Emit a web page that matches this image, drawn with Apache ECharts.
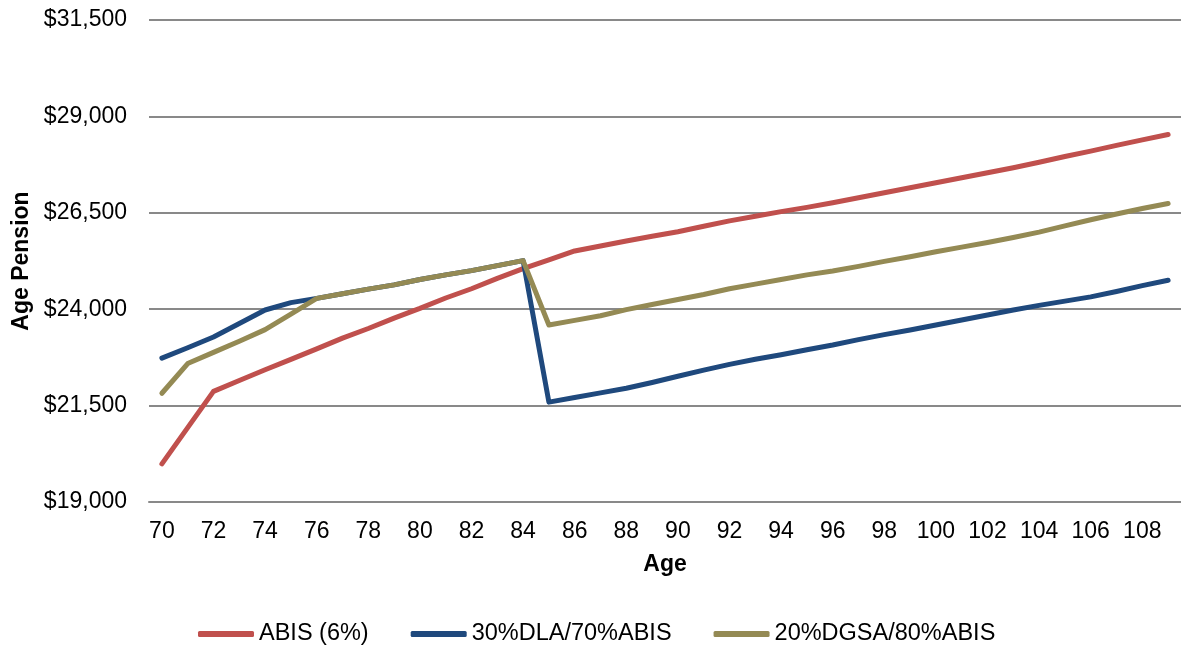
<!DOCTYPE html>
<html>
<head>
<meta charset="utf-8">
<title>Age Pension by Age</title>
<script src="https://cdn.jsdelivr.net/npm/echarts@6/dist/echarts.min.js"></script>
<style>
  html, body { margin: 0; padding: 0; background: #ffffff; }
  #chart { width: 1181px; height: 652px; }
</style>
</head>
<body>
<div id="chart"></div>
<script>
// Ages 70 to 109
const ages = [];
for (let a = 70; a <= 109; a++) ages.push(String(a));

const seriesNames = ['ABIS (6%)', '30%DLA/70%ABIS', '20%DGSA/80%ABIS'];

// Age pension received, by age
const abis = [
  19990, 20930, 21870, 22150, 22430, 22700, 22970, 23250, 23500, 23770,
  24020, 24290, 24530, 24800, 25050, 25280, 25510, 25640, 25770, 25890,
  26010, 26150, 26290, 26410, 26530, 26640, 26760, 26890, 27020, 27150,
  27280, 27410, 27540, 27670, 27810, 27960, 28100, 28250, 28390, 28530
];
const dla70 = [
  22730, 23000, 23280, 23630, 23980, 24170, 24280, 24400, 24520, 24630,
  24770, 24890, 25000, 25130, 25260, 21590, 21710, 21830, 21950, 22100,
  22260, 22420, 22570, 22700, 22820, 22950, 23070, 23210, 23340, 23460,
  23590, 23720, 23850, 23980, 24100, 24210, 24320, 24460, 24610, 24750
];
const dgsa80 = [
  21820, 22590, 22880, 23170, 23470, 23870, 24280, 24400, 24520, 24630,
  24770, 24890, 25000, 25130, 25260, 23590, 23710, 23830, 23990, 24120,
  24250, 24380, 24530, 24650, 24770, 24890, 24990, 25110, 25240, 25360,
  25490, 25610, 25730, 25860, 26000, 26160, 26320, 26470, 26610, 26740
];

const yMin = 19000, yMax = 31500, yStep = 2500;
const colors = ['#C0504D', '#1F497D', '#948A54'];
const font = '"Liberation Sans", Arial, sans-serif';

const chart = echarts.init(document.getElementById('chart'), null, { renderer: 'canvas' });

function lineSeries(name, data, color) {
  return {
    name: name,
    type: 'line',
    data: data,
    showSymbol: false,
    symbol: 'none',
    smooth: false,
    animation: false,
    lineStyle: { color: color, width: 5, cap: 'round', join: 'round' },
    itemStyle: { color: color }
  };
}

chart.setOption({
  animation: false,
  backgroundColor: '#ffffff',
  textStyle: { fontFamily: font },
  grid: { left: 149, right: -3, top: 20, bottom: 150, containLabel: false },
  xAxis: {
    type: 'category',
    data: ages,
    boundaryGap: true,
    name: 'Age',
    nameLocation: 'middle',
    nameGap: 51,
    nameTextStyle: { fontSize: 23, fontWeight: 'bold', color: '#000', fontFamily: font },
    axisLine: { show: true, lineStyle: { color: '#898989', width: 2 } },
    axisTick: { show: false },
    axisLabel: { interval: 1, margin: 18, fontSize: 23, color: '#000', fontFamily: font },
    splitLine: { show: false }
  },
  yAxis: {
    type: 'value',
    min: yMin,
    max: yMax,
    interval: yStep,
    name: 'Age Pension',
    nameLocation: 'middle',
    nameGap: 116,
    nameRotate: 90,
    nameTextStyle: { fontSize: 23, fontWeight: 'bold', color: '#000', fontFamily: font },
    axisLine: { show: false },
    axisTick: { show: false },
    axisLabel: {
      margin: 22,
      fontSize: 23,
      color: '#000',
      fontFamily: font,
      formatter: v => '$' + v.toLocaleString('en-US')
    },
    splitLine: { show: true, lineStyle: { color: '#898989', width: 2 } }
  },
  legend: {
    data: seriesNames,
    left: 198,
    top: 622,
    padding: 0,
    icon: 'roundRect',
    itemWidth: 56,
    itemHeight: 6,
    itemGap: 42,
    textStyle: { fontSize: 23.5, color: '#000', fontFamily: font }
  },
  series: [
    lineSeries(seriesNames[0], abis, colors[0]),
    lineSeries(seriesNames[1], dla70, colors[1]),
    lineSeries(seriesNames[2], dgsa80, colors[2])
  ]
});
</script>
</body>
</html>
